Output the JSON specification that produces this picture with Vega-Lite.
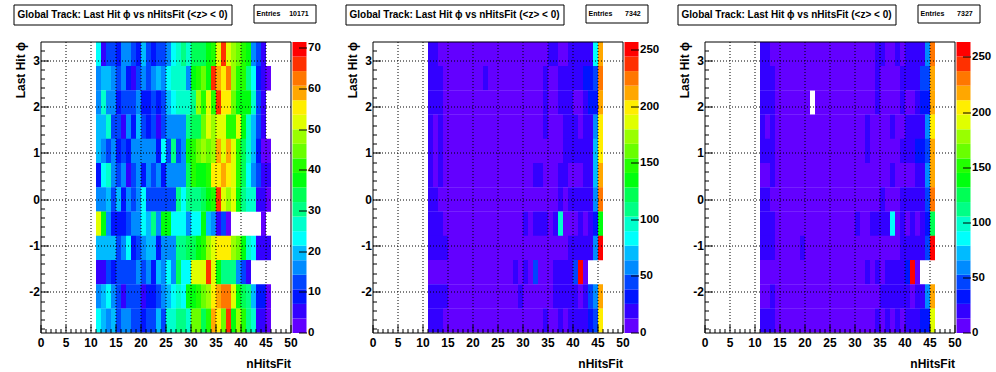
{
"$schema":"https://vega.github.io/schema/vega-lite/v6.json",
"padding":{"left":12.5,"top":3.5,"right":0,"bottom":0},
"background":"white",
"config":{"font":"Liberation Sans","view":{"stroke":null}},
"datasets":{
"p1":[
{"x":11,"y":2.8798,"n":23},{"x":12,"y":2.8798,"n":5},{"x":13,"y":2.8798,"n":13},{"x":14,"y":2.8798,"n":13},{"x":15,"y":2.8798,"n":9},{"x":16,"y":2.8798,"n":16},{"x":17,"y":2.8798,"n":16},{"x":18,"y":2.8798,"n":13},{"x":19,"y":2.8798,"n":9},{"x":20,"y":2.8798,"n":20},{"x":21,"y":2.8798,"n":13},{"x":22,"y":2.8798,"n":9},{"x":23,"y":2.8798,"n":13},{"x":24,"y":2.8798,"n":13},{"x":25,"y":2.8798,"n":16},{"x":26,"y":2.8798,"n":23},{"x":27,"y":2.8798,"n":27},{"x":28,"y":2.8798,"n":30},{"x":29,"y":2.8798,"n":27},{"x":30,"y":2.8798,"n":34},{"x":31,"y":2.8798,"n":34},{"x":32,"y":2.8798,"n":34},{"x":33,"y":2.8798,"n":38},{"x":34,"y":2.8798,"n":41},{"x":35,"y":2.8798,"n":52},{"x":36,"y":2.8798,"n":66},{"x":37,"y":2.8798,"n":52},{"x":38,"y":2.8798,"n":48},{"x":39,"y":2.8798,"n":45},{"x":40,"y":2.8798,"n":41},{"x":41,"y":2.8798,"n":38},{"x":42,"y":2.8798,"n":16},{"x":43,"y":2.8798,"n":13},{"x":44,"y":2.8798,"n":5},
{"x":11,"y":2.3562,"n":16},{"x":12,"y":2.3562,"n":20},{"x":13,"y":2.3562,"n":20},{"x":14,"y":2.3562,"n":16},{"x":15,"y":2.3562,"n":13},{"x":16,"y":2.3562,"n":16},{"x":17,"y":2.3562,"n":9},{"x":18,"y":2.3562,"n":5},{"x":19,"y":2.3562,"n":13},{"x":20,"y":2.3562,"n":16},{"x":21,"y":2.3562,"n":13},{"x":22,"y":2.3562,"n":16},{"x":23,"y":2.3562,"n":20},{"x":24,"y":2.3562,"n":16},{"x":25,"y":2.3562,"n":23},{"x":26,"y":2.3562,"n":27},{"x":27,"y":2.3562,"n":27},{"x":28,"y":2.3562,"n":27},{"x":29,"y":2.3562,"n":16},{"x":30,"y":2.3562,"n":38},{"x":31,"y":2.3562,"n":41},{"x":32,"y":2.3562,"n":45},{"x":33,"y":2.3562,"n":38},{"x":34,"y":2.3562,"n":66},{"x":35,"y":2.3562,"n":59},{"x":36,"y":2.3562,"n":55},{"x":37,"y":2.3562,"n":63},{"x":38,"y":2.3562,"n":48},{"x":39,"y":2.3562,"n":41},{"x":40,"y":2.3562,"n":41},{"x":41,"y":2.3562,"n":30},{"x":42,"y":2.3562,"n":23},{"x":43,"y":2.3562,"n":9},{"x":44,"y":2.3562,"n":5},{"x":45,"y":2.3562,"n":2},
{"x":11,"y":1.8326,"n":16},{"x":12,"y":1.8326,"n":27},{"x":13,"y":1.8326,"n":16},{"x":14,"y":1.8326,"n":16},{"x":15,"y":1.8326,"n":9},{"x":16,"y":1.8326,"n":13},{"x":17,"y":1.8326,"n":13},{"x":18,"y":1.8326,"n":13},{"x":19,"y":1.8326,"n":16},{"x":20,"y":1.8326,"n":9},{"x":21,"y":1.8326,"n":9},{"x":22,"y":1.8326,"n":13},{"x":23,"y":1.8326,"n":9},{"x":24,"y":1.8326,"n":13},{"x":25,"y":1.8326,"n":20},{"x":26,"y":1.8326,"n":23},{"x":27,"y":1.8326,"n":27},{"x":28,"y":1.8326,"n":27},{"x":29,"y":1.8326,"n":27},{"x":30,"y":1.8326,"n":30},{"x":31,"y":1.8326,"n":48},{"x":32,"y":1.8326,"n":41},{"x":33,"y":1.8326,"n":52},{"x":34,"y":1.8326,"n":41},{"x":35,"y":1.8326,"n":66},{"x":36,"y":1.8326,"n":55},{"x":37,"y":1.8326,"n":55},{"x":38,"y":1.8326,"n":45},{"x":39,"y":1.8326,"n":38},{"x":40,"y":1.8326,"n":38},{"x":41,"y":1.8326,"n":38},{"x":42,"y":1.8326,"n":27},{"x":43,"y":1.8326,"n":13},{"x":44,"y":1.8326,"n":5},
{"x":11,"y":1.309,"n":20},{"x":12,"y":1.309,"n":20},{"x":13,"y":1.309,"n":27},{"x":14,"y":1.309,"n":13},{"x":15,"y":1.309,"n":13},{"x":16,"y":1.309,"n":5},{"x":17,"y":1.309,"n":16},{"x":18,"y":1.309,"n":9},{"x":19,"y":1.309,"n":20},{"x":20,"y":1.309,"n":13},{"x":21,"y":1.309,"n":9},{"x":22,"y":1.309,"n":13},{"x":23,"y":1.309,"n":5},{"x":24,"y":1.309,"n":13},{"x":25,"y":1.309,"n":16},{"x":26,"y":1.309,"n":16},{"x":27,"y":1.309,"n":16},{"x":28,"y":1.309,"n":16},{"x":29,"y":1.309,"n":30},{"x":30,"y":1.309,"n":34},{"x":31,"y":1.309,"n":34},{"x":32,"y":1.309,"n":45},{"x":33,"y":1.309,"n":52},{"x":34,"y":1.309,"n":48},{"x":35,"y":1.309,"n":52},{"x":36,"y":1.309,"n":52},{"x":37,"y":1.309,"n":41},{"x":38,"y":1.309,"n":41},{"x":39,"y":1.309,"n":52},{"x":40,"y":1.309,"n":38},{"x":41,"y":1.309,"n":27},{"x":42,"y":1.309,"n":20},{"x":43,"y":1.309,"n":13},{"x":44,"y":1.309,"n":5},
{"x":11,"y":0.7854,"n":20},{"x":12,"y":0.7854,"n":16},{"x":13,"y":0.7854,"n":13},{"x":14,"y":0.7854,"n":16},{"x":15,"y":0.7854,"n":9},{"x":16,"y":0.7854,"n":13},{"x":17,"y":0.7854,"n":9},{"x":18,"y":0.7854,"n":16},{"x":19,"y":0.7854,"n":16},{"x":20,"y":0.7854,"n":16},{"x":21,"y":0.7854,"n":16},{"x":22,"y":0.7854,"n":16},{"x":23,"y":0.7854,"n":9},{"x":24,"y":0.7854,"n":23},{"x":25,"y":0.7854,"n":13},{"x":26,"y":0.7854,"n":30},{"x":27,"y":0.7854,"n":13},{"x":28,"y":0.7854,"n":16},{"x":29,"y":0.7854,"n":38},{"x":30,"y":0.7854,"n":41},{"x":31,"y":0.7854,"n":45},{"x":32,"y":0.7854,"n":48},{"x":33,"y":0.7854,"n":45},{"x":34,"y":0.7854,"n":48},{"x":35,"y":0.7854,"n":59},{"x":36,"y":0.7854,"n":52},{"x":37,"y":0.7854,"n":59},{"x":38,"y":0.7854,"n":52},{"x":39,"y":0.7854,"n":41},{"x":40,"y":0.7854,"n":34},{"x":41,"y":0.7854,"n":27},{"x":42,"y":0.7854,"n":20},{"x":43,"y":0.7854,"n":9},{"x":44,"y":0.7854,"n":2},{"x":45,"y":0.7854,"n":2},
{"x":11,"y":0.2618,"n":9},{"x":12,"y":0.2618,"n":23},{"x":13,"y":0.2618,"n":27},{"x":14,"y":0.2618,"n":16},{"x":15,"y":0.2618,"n":13},{"x":16,"y":0.2618,"n":16},{"x":17,"y":0.2618,"n":5},{"x":18,"y":0.2618,"n":13},{"x":19,"y":0.2618,"n":16},{"x":20,"y":0.2618,"n":9},{"x":21,"y":0.2618,"n":16},{"x":22,"y":0.2618,"n":13},{"x":23,"y":0.2618,"n":16},{"x":24,"y":0.2618,"n":9},{"x":25,"y":0.2618,"n":16},{"x":26,"y":0.2618,"n":16},{"x":27,"y":0.2618,"n":16},{"x":28,"y":0.2618,"n":16},{"x":29,"y":0.2618,"n":34},{"x":30,"y":0.2618,"n":41},{"x":31,"y":0.2618,"n":38},{"x":32,"y":0.2618,"n":38},{"x":33,"y":0.2618,"n":41},{"x":34,"y":0.2618,"n":55},{"x":35,"y":0.2618,"n":55},{"x":36,"y":0.2618,"n":59},{"x":37,"y":0.2618,"n":55},{"x":38,"y":0.2618,"n":52},{"x":39,"y":0.2618,"n":41},{"x":40,"y":0.2618,"n":34},{"x":41,"y":0.2618,"n":23},{"x":42,"y":0.2618,"n":16},{"x":43,"y":0.2618,"n":13},{"x":44,"y":0.2618,"n":5},{"x":45,"y":0.2618,"n":5},
{"x":11,"y":-0.2618,"n":16},{"x":12,"y":-0.2618,"n":16},{"x":13,"y":-0.2618,"n":20},{"x":14,"y":-0.2618,"n":13},{"x":15,"y":-0.2618,"n":20},{"x":16,"y":-0.2618,"n":9},{"x":17,"y":-0.2618,"n":16},{"x":18,"y":-0.2618,"n":13},{"x":19,"y":-0.2618,"n":16},{"x":20,"y":-0.2618,"n":23},{"x":21,"y":-0.2618,"n":13},{"x":22,"y":-0.2618,"n":13},{"x":23,"y":-0.2618,"n":13},{"x":24,"y":-0.2618,"n":13},{"x":25,"y":-0.2618,"n":13},{"x":26,"y":-0.2618,"n":13},{"x":27,"y":-0.2618,"n":30},{"x":28,"y":-0.2618,"n":23},{"x":29,"y":-0.2618,"n":30},{"x":30,"y":-0.2618,"n":30},{"x":31,"y":-0.2618,"n":30},{"x":32,"y":-0.2618,"n":34},{"x":33,"y":-0.2618,"n":38},{"x":34,"y":-0.2618,"n":41},{"x":35,"y":-0.2618,"n":66},{"x":36,"y":-0.2618,"n":52},{"x":37,"y":-0.2618,"n":48},{"x":38,"y":-0.2618,"n":52},{"x":39,"y":-0.2618,"n":38},{"x":40,"y":-0.2618,"n":30},{"x":41,"y":-0.2618,"n":27},{"x":42,"y":-0.2618,"n":27},{"x":43,"y":-0.2618,"n":5},{"x":44,"y":-0.2618,"n":5},{"x":45,"y":-0.2618,"n":2},
{"x":11,"y":-0.7854,"n":52},{"x":12,"y":-0.7854,"n":38},{"x":13,"y":-0.7854,"n":16},{"x":14,"y":-0.7854,"n":9},{"x":15,"y":-0.7854,"n":9},{"x":16,"y":-0.7854,"n":9},{"x":17,"y":-0.7854,"n":13},{"x":18,"y":-0.7854,"n":16},{"x":19,"y":-0.7854,"n":16},{"x":20,"y":-0.7854,"n":23},{"x":21,"y":-0.7854,"n":20},{"x":22,"y":-0.7854,"n":30},{"x":23,"y":-0.7854,"n":16},{"x":24,"y":-0.7854,"n":38},{"x":25,"y":-0.7854,"n":38},{"x":26,"y":-0.7854,"n":23},{"x":27,"y":-0.7854,"n":23},{"x":28,"y":-0.7854,"n":23},{"x":29,"y":-0.7854,"n":16},{"x":30,"y":-0.7854,"n":23},{"x":31,"y":-0.7854,"n":23},{"x":32,"y":-0.7854,"n":38},{"x":33,"y":-0.7854,"n":20},{"x":34,"y":-0.7854,"n":16},{"x":35,"y":-0.7854,"n":5},{"x":36,"y":-0.7854,"n":13},{"x":37,"y":-0.7854,"n":2},{"x":44,"y":-0.7854,"n":2},
{"x":11,"y":-1.309,"n":20},{"x":12,"y":-1.309,"n":20},{"x":13,"y":-1.309,"n":20},{"x":14,"y":-1.309,"n":20},{"x":15,"y":-1.309,"n":13},{"x":16,"y":-1.309,"n":16},{"x":17,"y":-1.309,"n":23},{"x":18,"y":-1.309,"n":9},{"x":19,"y":-1.309,"n":13},{"x":20,"y":-1.309,"n":16},{"x":21,"y":-1.309,"n":20},{"x":22,"y":-1.309,"n":20},{"x":23,"y":-1.309,"n":9},{"x":24,"y":-1.309,"n":16},{"x":25,"y":-1.309,"n":16},{"x":26,"y":-1.309,"n":16},{"x":27,"y":-1.309,"n":30},{"x":28,"y":-1.309,"n":30},{"x":29,"y":-1.309,"n":34},{"x":30,"y":-1.309,"n":34},{"x":31,"y":-1.309,"n":38},{"x":32,"y":-1.309,"n":41},{"x":33,"y":-1.309,"n":48},{"x":34,"y":-1.309,"n":52},{"x":35,"y":-1.309,"n":55},{"x":36,"y":-1.309,"n":55},{"x":37,"y":-1.309,"n":55},{"x":38,"y":-1.309,"n":48},{"x":39,"y":-1.309,"n":45},{"x":40,"y":-1.309,"n":38},{"x":41,"y":-1.309,"n":27},{"x":42,"y":-1.309,"n":23},{"x":43,"y":-1.309,"n":5},{"x":44,"y":-1.309,"n":5},{"x":45,"y":-1.309,"n":5},
{"x":11,"y":-1.8326,"n":5},{"x":12,"y":-1.8326,"n":5},{"x":13,"y":-1.8326,"n":13},{"x":14,"y":-1.8326,"n":9},{"x":15,"y":-1.8326,"n":13},{"x":16,"y":-1.8326,"n":13},{"x":17,"y":-1.8326,"n":13},{"x":18,"y":-1.8326,"n":13},{"x":19,"y":-1.8326,"n":16},{"x":20,"y":-1.8326,"n":13},{"x":21,"y":-1.8326,"n":16},{"x":22,"y":-1.8326,"n":9},{"x":23,"y":-1.8326,"n":20},{"x":24,"y":-1.8326,"n":16},{"x":25,"y":-1.8326,"n":23},{"x":26,"y":-1.8326,"n":16},{"x":27,"y":-1.8326,"n":34},{"x":28,"y":-1.8326,"n":23},{"x":29,"y":-1.8326,"n":23},{"x":30,"y":-1.8326,"n":52},{"x":31,"y":-1.8326,"n":52},{"x":32,"y":-1.8326,"n":52},{"x":33,"y":-1.8326,"n":66},{"x":34,"y":-1.8326,"n":52},{"x":35,"y":-1.8326,"n":38},{"x":36,"y":-1.8326,"n":30},{"x":37,"y":-1.8326,"n":30},{"x":38,"y":-1.8326,"n":30},{"x":39,"y":-1.8326,"n":16},{"x":40,"y":-1.8326,"n":13},{"x":41,"y":-1.8326,"n":5},
{"x":11,"y":-2.3562,"n":16},{"x":12,"y":-2.3562,"n":20},{"x":13,"y":-2.3562,"n":23},{"x":14,"y":-2.3562,"n":16},{"x":15,"y":-2.3562,"n":13},{"x":16,"y":-2.3562,"n":5},{"x":17,"y":-2.3562,"n":13},{"x":18,"y":-2.3562,"n":13},{"x":19,"y":-2.3562,"n":13},{"x":20,"y":-2.3562,"n":5},{"x":21,"y":-2.3562,"n":9},{"x":22,"y":-2.3562,"n":9},{"x":23,"y":-2.3562,"n":13},{"x":24,"y":-2.3562,"n":16},{"x":25,"y":-2.3562,"n":20},{"x":26,"y":-2.3562,"n":23},{"x":27,"y":-2.3562,"n":27},{"x":28,"y":-2.3562,"n":23},{"x":29,"y":-2.3562,"n":38},{"x":30,"y":-2.3562,"n":38},{"x":31,"y":-2.3562,"n":41},{"x":32,"y":-2.3562,"n":45},{"x":33,"y":-2.3562,"n":48},{"x":34,"y":-2.3562,"n":55},{"x":35,"y":-2.3562,"n":59},{"x":36,"y":-2.3562,"n":63},{"x":37,"y":-2.3562,"n":63},{"x":38,"y":-2.3562,"n":52},{"x":39,"y":-2.3562,"n":38},{"x":40,"y":-2.3562,"n":34},{"x":41,"y":-2.3562,"n":30},{"x":42,"y":-2.3562,"n":20},{"x":43,"y":-2.3562,"n":9},{"x":44,"y":-2.3562,"n":9},{"x":45,"y":-2.3562,"n":2},
{"x":11,"y":-2.8798,"n":23},{"x":12,"y":-2.8798,"n":20},{"x":13,"y":-2.8798,"n":16},{"x":14,"y":-2.8798,"n":20},{"x":15,"y":-2.8798,"n":13},{"x":16,"y":-2.8798,"n":16},{"x":17,"y":-2.8798,"n":16},{"x":18,"y":-2.8798,"n":13},{"x":19,"y":-2.8798,"n":13},{"x":20,"y":-2.8798,"n":9},{"x":21,"y":-2.8798,"n":13},{"x":22,"y":-2.8798,"n":13},{"x":23,"y":-2.8798,"n":20},{"x":24,"y":-2.8798,"n":13},{"x":25,"y":-2.8798,"n":27},{"x":26,"y":-2.8798,"n":27},{"x":27,"y":-2.8798,"n":30},{"x":28,"y":-2.8798,"n":30},{"x":29,"y":-2.8798,"n":27},{"x":30,"y":-2.8798,"n":45},{"x":31,"y":-2.8798,"n":45},{"x":32,"y":-2.8798,"n":34},{"x":33,"y":-2.8798,"n":41},{"x":34,"y":-2.8798,"n":59},{"x":35,"y":-2.8798,"n":55},{"x":36,"y":-2.8798,"n":45},{"x":37,"y":-2.8798,"n":66},{"x":38,"y":-2.8798,"n":38},{"x":39,"y":-2.8798,"n":48},{"x":40,"y":-2.8798,"n":41},{"x":41,"y":-2.8798,"n":30},{"x":42,"y":-2.8798,"n":27},{"x":43,"y":-2.8798,"n":5},{"x":44,"y":-2.8798,"n":5},{"x":45,"y":-2.8798,"n":2}
],
"p2":[
{"x":11,"y":2.8798,"n":19},{"x":12,"y":2.8798,"n":19},{"x":13,"y":2.8798,"n":6},{"x":14,"y":2.8798,"n":6},{"x":15,"y":2.8798,"n":6},{"x":16,"y":2.8798,"n":6},{"x":17,"y":2.8798,"n":6},{"x":18,"y":2.8798,"n":6},{"x":19,"y":2.8798,"n":6},{"x":20,"y":2.8798,"n":6},{"x":21,"y":2.8798,"n":6},{"x":22,"y":2.8798,"n":6},{"x":23,"y":2.8798,"n":6},{"x":24,"y":2.8798,"n":6},{"x":25,"y":2.8798,"n":6},{"x":26,"y":2.8798,"n":6},{"x":27,"y":2.8798,"n":6},{"x":28,"y":2.8798,"n":6},{"x":29,"y":2.8798,"n":6},{"x":30,"y":2.8798,"n":6},{"x":31,"y":2.8798,"n":6},{"x":32,"y":2.8798,"n":6},{"x":33,"y":2.8798,"n":6},{"x":34,"y":2.8798,"n":6},{"x":35,"y":2.8798,"n":19},{"x":36,"y":2.8798,"n":19},{"x":37,"y":2.8798,"n":6},{"x":38,"y":2.8798,"n":6},{"x":39,"y":2.8798,"n":19},{"x":40,"y":2.8798,"n":19},{"x":41,"y":2.8798,"n":19},{"x":42,"y":2.8798,"n":19},{"x":43,"y":2.8798,"n":19},{"x":44,"y":2.8798,"n":84},{"x":45,"y":2.8798,"n":212},
{"x":11,"y":2.3562,"n":19},{"x":12,"y":2.3562,"n":19},{"x":13,"y":2.3562,"n":19},{"x":14,"y":2.3562,"n":6},{"x":15,"y":2.3562,"n":6},{"x":16,"y":2.3562,"n":6},{"x":17,"y":2.3562,"n":6},{"x":18,"y":2.3562,"n":6},{"x":19,"y":2.3562,"n":6},{"x":20,"y":2.3562,"n":6},{"x":21,"y":2.3562,"n":6},{"x":22,"y":2.3562,"n":19},{"x":23,"y":2.3562,"n":6},{"x":24,"y":2.3562,"n":6},{"x":25,"y":2.3562,"n":6},{"x":26,"y":2.3562,"n":6},{"x":27,"y":2.3562,"n":6},{"x":28,"y":2.3562,"n":6},{"x":29,"y":2.3562,"n":6},{"x":30,"y":2.3562,"n":6},{"x":31,"y":2.3562,"n":6},{"x":32,"y":2.3562,"n":6},{"x":33,"y":2.3562,"n":6},{"x":34,"y":2.3562,"n":19},{"x":35,"y":2.3562,"n":6},{"x":36,"y":2.3562,"n":6},{"x":37,"y":2.3562,"n":19},{"x":38,"y":2.3562,"n":19},{"x":39,"y":2.3562,"n":19},{"x":40,"y":2.3562,"n":19},{"x":41,"y":2.3562,"n":19},{"x":42,"y":2.3562,"n":32},{"x":43,"y":2.3562,"n":32},{"x":44,"y":2.3562,"n":45},{"x":45,"y":2.3562,"n":225},
{"x":11,"y":1.8326,"n":19},{"x":12,"y":1.8326,"n":19},{"x":13,"y":1.8326,"n":19},{"x":14,"y":1.8326,"n":6},{"x":15,"y":1.8326,"n":6},{"x":16,"y":1.8326,"n":6},{"x":17,"y":1.8326,"n":6},{"x":18,"y":1.8326,"n":6},{"x":19,"y":1.8326,"n":6},{"x":20,"y":1.8326,"n":6},{"x":21,"y":1.8326,"n":6},{"x":22,"y":1.8326,"n":6},{"x":23,"y":1.8326,"n":6},{"x":24,"y":1.8326,"n":6},{"x":25,"y":1.8326,"n":6},{"x":26,"y":1.8326,"n":6},{"x":27,"y":1.8326,"n":6},{"x":28,"y":1.8326,"n":6},{"x":29,"y":1.8326,"n":6},{"x":30,"y":1.8326,"n":6},{"x":31,"y":1.8326,"n":6},{"x":32,"y":1.8326,"n":6},{"x":33,"y":1.8326,"n":6},{"x":34,"y":1.8326,"n":19},{"x":35,"y":1.8326,"n":6},{"x":36,"y":1.8326,"n":6},{"x":37,"y":1.8326,"n":19},{"x":38,"y":1.8326,"n":19},{"x":39,"y":1.8326,"n":19},{"x":40,"y":1.8326,"n":6},{"x":41,"y":1.8326,"n":6},{"x":42,"y":1.8326,"n":19},{"x":43,"y":1.8326,"n":32},{"x":44,"y":1.8326,"n":32},{"x":45,"y":1.8326,"n":212},
{"x":11,"y":1.309,"n":19},{"x":12,"y":1.309,"n":6},{"x":13,"y":1.309,"n":19},{"x":14,"y":1.309,"n":6},{"x":15,"y":1.309,"n":6},{"x":16,"y":1.309,"n":6},{"x":17,"y":1.309,"n":6},{"x":18,"y":1.309,"n":6},{"x":19,"y":1.309,"n":6},{"x":20,"y":1.309,"n":6},{"x":21,"y":1.309,"n":6},{"x":22,"y":1.309,"n":6},{"x":23,"y":1.309,"n":6},{"x":24,"y":1.309,"n":6},{"x":25,"y":1.309,"n":6},{"x":26,"y":1.309,"n":6},{"x":27,"y":1.309,"n":6},{"x":28,"y":1.309,"n":6},{"x":29,"y":1.309,"n":6},{"x":30,"y":1.309,"n":6},{"x":31,"y":1.309,"n":6},{"x":32,"y":1.309,"n":6},{"x":33,"y":1.309,"n":6},{"x":34,"y":1.309,"n":19},{"x":35,"y":1.309,"n":6},{"x":36,"y":1.309,"n":6},{"x":37,"y":1.309,"n":6},{"x":38,"y":1.309,"n":19},{"x":39,"y":1.309,"n":19},{"x":40,"y":1.309,"n":19},{"x":41,"y":1.309,"n":6},{"x":42,"y":1.309,"n":19},{"x":43,"y":1.309,"n":19},{"x":44,"y":1.309,"n":58},{"x":45,"y":1.309,"n":199},
{"x":11,"y":0.7854,"n":19},{"x":12,"y":0.7854,"n":6},{"x":13,"y":0.7854,"n":19},{"x":14,"y":0.7854,"n":6},{"x":15,"y":0.7854,"n":6},{"x":16,"y":0.7854,"n":6},{"x":17,"y":0.7854,"n":6},{"x":18,"y":0.7854,"n":6},{"x":19,"y":0.7854,"n":6},{"x":20,"y":0.7854,"n":6},{"x":21,"y":0.7854,"n":6},{"x":22,"y":0.7854,"n":6},{"x":23,"y":0.7854,"n":6},{"x":24,"y":0.7854,"n":6},{"x":25,"y":0.7854,"n":6},{"x":26,"y":0.7854,"n":6},{"x":27,"y":0.7854,"n":6},{"x":28,"y":0.7854,"n":6},{"x":29,"y":0.7854,"n":6},{"x":30,"y":0.7854,"n":6},{"x":31,"y":0.7854,"n":6},{"x":32,"y":0.7854,"n":6},{"x":33,"y":0.7854,"n":6},{"x":34,"y":0.7854,"n":6},{"x":35,"y":0.7854,"n":6},{"x":36,"y":0.7854,"n":6},{"x":37,"y":0.7854,"n":6},{"x":38,"y":0.7854,"n":19},{"x":39,"y":0.7854,"n":19},{"x":40,"y":0.7854,"n":19},{"x":41,"y":0.7854,"n":19},{"x":42,"y":0.7854,"n":19},{"x":43,"y":0.7854,"n":19},{"x":44,"y":0.7854,"n":71},{"x":45,"y":0.7854,"n":199},
{"x":11,"y":0.2618,"n":19},{"x":12,"y":0.2618,"n":6},{"x":13,"y":0.2618,"n":19},{"x":14,"y":0.2618,"n":6},{"x":15,"y":0.2618,"n":6},{"x":16,"y":0.2618,"n":6},{"x":17,"y":0.2618,"n":6},{"x":18,"y":0.2618,"n":6},{"x":19,"y":0.2618,"n":6},{"x":20,"y":0.2618,"n":6},{"x":21,"y":0.2618,"n":6},{"x":22,"y":0.2618,"n":6},{"x":23,"y":0.2618,"n":6},{"x":24,"y":0.2618,"n":6},{"x":25,"y":0.2618,"n":6},{"x":26,"y":0.2618,"n":6},{"x":27,"y":0.2618,"n":6},{"x":28,"y":0.2618,"n":6},{"x":29,"y":0.2618,"n":6},{"x":30,"y":0.2618,"n":6},{"x":31,"y":0.2618,"n":6},{"x":32,"y":0.2618,"n":19},{"x":33,"y":0.2618,"n":19},{"x":34,"y":0.2618,"n":6},{"x":35,"y":0.2618,"n":6},{"x":36,"y":0.2618,"n":6},{"x":37,"y":0.2618,"n":19},{"x":38,"y":0.2618,"n":19},{"x":39,"y":0.2618,"n":6},{"x":40,"y":0.2618,"n":6},{"x":41,"y":0.2618,"n":6},{"x":42,"y":0.2618,"n":19},{"x":43,"y":0.2618,"n":19},{"x":44,"y":0.2618,"n":71},{"x":45,"y":0.2618,"n":212},
{"x":11,"y":-0.2618,"n":19},{"x":12,"y":-0.2618,"n":19},{"x":13,"y":-0.2618,"n":6},{"x":14,"y":-0.2618,"n":6},{"x":15,"y":-0.2618,"n":6},{"x":16,"y":-0.2618,"n":6},{"x":17,"y":-0.2618,"n":6},{"x":18,"y":-0.2618,"n":6},{"x":19,"y":-0.2618,"n":6},{"x":20,"y":-0.2618,"n":6},{"x":21,"y":-0.2618,"n":6},{"x":22,"y":-0.2618,"n":6},{"x":23,"y":-0.2618,"n":6},{"x":24,"y":-0.2618,"n":6},{"x":25,"y":-0.2618,"n":6},{"x":26,"y":-0.2618,"n":6},{"x":27,"y":-0.2618,"n":6},{"x":28,"y":-0.2618,"n":6},{"x":29,"y":-0.2618,"n":6},{"x":30,"y":-0.2618,"n":6},{"x":31,"y":-0.2618,"n":6},{"x":32,"y":-0.2618,"n":6},{"x":33,"y":-0.2618,"n":6},{"x":34,"y":-0.2618,"n":6},{"x":35,"y":-0.2618,"n":6},{"x":36,"y":-0.2618,"n":6},{"x":37,"y":-0.2618,"n":19},{"x":38,"y":-0.2618,"n":6},{"x":39,"y":-0.2618,"n":19},{"x":40,"y":-0.2618,"n":19},{"x":41,"y":-0.2618,"n":19},{"x":42,"y":-0.2618,"n":19},{"x":43,"y":-0.2618,"n":19},{"x":44,"y":-0.2618,"n":58},{"x":45,"y":-0.2618,"n":225},
{"x":11,"y":-0.7854,"n":19},{"x":12,"y":-0.7854,"n":19},{"x":13,"y":-0.7854,"n":19},{"x":14,"y":-0.7854,"n":6},{"x":15,"y":-0.7854,"n":6},{"x":16,"y":-0.7854,"n":6},{"x":17,"y":-0.7854,"n":6},{"x":18,"y":-0.7854,"n":6},{"x":19,"y":-0.7854,"n":6},{"x":20,"y":-0.7854,"n":6},{"x":21,"y":-0.7854,"n":6},{"x":22,"y":-0.7854,"n":6},{"x":23,"y":-0.7854,"n":6},{"x":24,"y":-0.7854,"n":6},{"x":25,"y":-0.7854,"n":6},{"x":26,"y":-0.7854,"n":6},{"x":27,"y":-0.7854,"n":6},{"x":28,"y":-0.7854,"n":6},{"x":29,"y":-0.7854,"n":6},{"x":30,"y":-0.7854,"n":19},{"x":31,"y":-0.7854,"n":6},{"x":32,"y":-0.7854,"n":19},{"x":33,"y":-0.7854,"n":19},{"x":34,"y":-0.7854,"n":19},{"x":35,"y":-0.7854,"n":6},{"x":36,"y":-0.7854,"n":19},{"x":37,"y":-0.7854,"n":96},{"x":38,"y":-0.7854,"n":6},{"x":39,"y":-0.7854,"n":6},{"x":40,"y":-0.7854,"n":6},{"x":41,"y":-0.7854,"n":19},{"x":42,"y":-0.7854,"n":6},{"x":43,"y":-0.7854,"n":19},{"x":44,"y":-0.7854,"n":32},{"x":45,"y":-0.7854,"n":135},
{"x":11,"y":-1.309,"n":19},{"x":12,"y":-1.309,"n":19},{"x":13,"y":-1.309,"n":19},{"x":14,"y":-1.309,"n":19},{"x":15,"y":-1.309,"n":6},{"x":16,"y":-1.309,"n":6},{"x":17,"y":-1.309,"n":6},{"x":18,"y":-1.309,"n":6},{"x":19,"y":-1.309,"n":6},{"x":20,"y":-1.309,"n":6},{"x":21,"y":-1.309,"n":6},{"x":22,"y":-1.309,"n":6},{"x":23,"y":-1.309,"n":6},{"x":24,"y":-1.309,"n":6},{"x":25,"y":-1.309,"n":6},{"x":26,"y":-1.309,"n":6},{"x":27,"y":-1.309,"n":6},{"x":28,"y":-1.309,"n":6},{"x":29,"y":-1.309,"n":6},{"x":30,"y":-1.309,"n":6},{"x":31,"y":-1.309,"n":6},{"x":32,"y":-1.309,"n":6},{"x":33,"y":-1.309,"n":6},{"x":34,"y":-1.309,"n":6},{"x":35,"y":-1.309,"n":6},{"x":36,"y":-1.309,"n":6},{"x":37,"y":-1.309,"n":6},{"x":38,"y":-1.309,"n":6},{"x":39,"y":-1.309,"n":19},{"x":40,"y":-1.309,"n":19},{"x":41,"y":-1.309,"n":19},{"x":42,"y":-1.309,"n":19},{"x":43,"y":-1.309,"n":19},{"x":44,"y":-1.309,"n":58},{"x":45,"y":-1.309,"n":250},
{"x":11,"y":-1.8326,"n":6},{"x":12,"y":-1.8326,"n":6},{"x":13,"y":-1.8326,"n":6},{"x":14,"y":-1.8326,"n":6},{"x":15,"y":-1.8326,"n":6},{"x":16,"y":-1.8326,"n":6},{"x":17,"y":-1.8326,"n":6},{"x":18,"y":-1.8326,"n":6},{"x":19,"y":-1.8326,"n":6},{"x":20,"y":-1.8326,"n":6},{"x":21,"y":-1.8326,"n":6},{"x":22,"y":-1.8326,"n":6},{"x":23,"y":-1.8326,"n":6},{"x":24,"y":-1.8326,"n":6},{"x":25,"y":-1.8326,"n":6},{"x":26,"y":-1.8326,"n":6},{"x":27,"y":-1.8326,"n":6},{"x":28,"y":-1.8326,"n":19},{"x":29,"y":-1.8326,"n":6},{"x":30,"y":-1.8326,"n":19},{"x":31,"y":-1.8326,"n":6},{"x":32,"y":-1.8326,"n":45},{"x":33,"y":-1.8326,"n":6},{"x":34,"y":-1.8326,"n":6},{"x":35,"y":-1.8326,"n":6},{"x":36,"y":-1.8326,"n":19},{"x":37,"y":-1.8326,"n":19},{"x":38,"y":-1.8326,"n":19},{"x":39,"y":-1.8326,"n":19},{"x":40,"y":-1.8326,"n":45},{"x":41,"y":-1.8326,"n":250},{"x":42,"y":-1.8326,"n":6},
{"x":11,"y":-2.3562,"n":19},{"x":12,"y":-2.3562,"n":19},{"x":13,"y":-2.3562,"n":19},{"x":14,"y":-2.3562,"n":19},{"x":15,"y":-2.3562,"n":6},{"x":16,"y":-2.3562,"n":6},{"x":17,"y":-2.3562,"n":6},{"x":18,"y":-2.3562,"n":6},{"x":19,"y":-2.3562,"n":6},{"x":20,"y":-2.3562,"n":6},{"x":21,"y":-2.3562,"n":6},{"x":22,"y":-2.3562,"n":6},{"x":23,"y":-2.3562,"n":6},{"x":24,"y":-2.3562,"n":6},{"x":25,"y":-2.3562,"n":6},{"x":26,"y":-2.3562,"n":6},{"x":27,"y":-2.3562,"n":6},{"x":28,"y":-2.3562,"n":6},{"x":29,"y":-2.3562,"n":19},{"x":30,"y":-2.3562,"n":6},{"x":31,"y":-2.3562,"n":6},{"x":32,"y":-2.3562,"n":6},{"x":33,"y":-2.3562,"n":6},{"x":34,"y":-2.3562,"n":6},{"x":35,"y":-2.3562,"n":6},{"x":36,"y":-2.3562,"n":19},{"x":37,"y":-2.3562,"n":19},{"x":38,"y":-2.3562,"n":19},{"x":39,"y":-2.3562,"n":19},{"x":40,"y":-2.3562,"n":19},{"x":41,"y":-2.3562,"n":6},{"x":42,"y":-2.3562,"n":19},{"x":43,"y":-2.3562,"n":45},{"x":44,"y":-2.3562,"n":58},{"x":45,"y":-2.3562,"n":212},
{"x":11,"y":-2.8798,"n":19},{"x":12,"y":-2.8798,"n":19},{"x":13,"y":-2.8798,"n":19},{"x":14,"y":-2.8798,"n":6},{"x":15,"y":-2.8798,"n":6},{"x":16,"y":-2.8798,"n":6},{"x":17,"y":-2.8798,"n":6},{"x":18,"y":-2.8798,"n":6},{"x":19,"y":-2.8798,"n":6},{"x":20,"y":-2.8798,"n":6},{"x":21,"y":-2.8798,"n":6},{"x":22,"y":-2.8798,"n":6},{"x":23,"y":-2.8798,"n":6},{"x":24,"y":-2.8798,"n":6},{"x":25,"y":-2.8798,"n":6},{"x":26,"y":-2.8798,"n":6},{"x":27,"y":-2.8798,"n":6},{"x":28,"y":-2.8798,"n":6},{"x":29,"y":-2.8798,"n":6},{"x":30,"y":-2.8798,"n":6},{"x":31,"y":-2.8798,"n":6},{"x":32,"y":-2.8798,"n":6},{"x":33,"y":-2.8798,"n":6},{"x":34,"y":-2.8798,"n":19},{"x":35,"y":-2.8798,"n":6},{"x":36,"y":-2.8798,"n":6},{"x":37,"y":-2.8798,"n":19},{"x":38,"y":-2.8798,"n":6},{"x":39,"y":-2.8798,"n":19},{"x":40,"y":-2.8798,"n":19},{"x":41,"y":-2.8798,"n":19},{"x":42,"y":-2.8798,"n":19},{"x":43,"y":-2.8798,"n":32},{"x":44,"y":-2.8798,"n":45},{"x":45,"y":-2.8798,"n":199}
],
"p3":[
{"x":11,"y":2.8798,"n":20},{"x":12,"y":2.8798,"n":20},{"x":13,"y":2.8798,"n":7},{"x":14,"y":2.8798,"n":7},{"x":15,"y":2.8798,"n":7},{"x":16,"y":2.8798,"n":7},{"x":17,"y":2.8798,"n":7},{"x":18,"y":2.8798,"n":7},{"x":19,"y":2.8798,"n":7},{"x":20,"y":2.8798,"n":7},{"x":21,"y":2.8798,"n":7},{"x":22,"y":2.8798,"n":7},{"x":23,"y":2.8798,"n":7},{"x":24,"y":2.8798,"n":7},{"x":25,"y":2.8798,"n":7},{"x":26,"y":2.8798,"n":7},{"x":27,"y":2.8798,"n":7},{"x":28,"y":2.8798,"n":7},{"x":29,"y":2.8798,"n":7},{"x":30,"y":2.8798,"n":7},{"x":31,"y":2.8798,"n":7},{"x":32,"y":2.8798,"n":7},{"x":33,"y":2.8798,"n":7},{"x":34,"y":2.8798,"n":20},{"x":35,"y":2.8798,"n":20},{"x":36,"y":2.8798,"n":7},{"x":37,"y":2.8798,"n":7},{"x":38,"y":2.8798,"n":20},{"x":39,"y":2.8798,"n":7},{"x":40,"y":2.8798,"n":20},{"x":41,"y":2.8798,"n":20},{"x":42,"y":2.8798,"n":20},{"x":43,"y":2.8798,"n":20},{"x":44,"y":2.8798,"n":59},{"x":45,"y":2.8798,"n":231},
{"x":11,"y":2.3562,"n":20},{"x":12,"y":2.3562,"n":20},{"x":13,"y":2.3562,"n":20},{"x":14,"y":2.3562,"n":7},{"x":15,"y":2.3562,"n":7},{"x":16,"y":2.3562,"n":7},{"x":17,"y":2.3562,"n":7},{"x":18,"y":2.3562,"n":7},{"x":19,"y":2.3562,"n":7},{"x":20,"y":2.3562,"n":7},{"x":21,"y":2.3562,"n":7},{"x":22,"y":2.3562,"n":7},{"x":23,"y":2.3562,"n":7},{"x":24,"y":2.3562,"n":7},{"x":25,"y":2.3562,"n":7},{"x":26,"y":2.3562,"n":7},{"x":27,"y":2.3562,"n":7},{"x":28,"y":2.3562,"n":7},{"x":29,"y":2.3562,"n":7},{"x":30,"y":2.3562,"n":7},{"x":31,"y":2.3562,"n":7},{"x":32,"y":2.3562,"n":7},{"x":33,"y":2.3562,"n":7},{"x":34,"y":2.3562,"n":20},{"x":35,"y":2.3562,"n":7},{"x":36,"y":2.3562,"n":7},{"x":37,"y":2.3562,"n":7},{"x":38,"y":2.3562,"n":7},{"x":39,"y":2.3562,"n":20},{"x":40,"y":2.3562,"n":20},{"x":41,"y":2.3562,"n":20},{"x":42,"y":2.3562,"n":20},{"x":43,"y":2.3562,"n":46},{"x":44,"y":2.3562,"n":46},{"x":45,"y":2.3562,"n":218},
{"x":11,"y":1.8326,"n":20},{"x":12,"y":1.8326,"n":20},{"x":13,"y":1.8326,"n":20},{"x":14,"y":1.8326,"n":7},{"x":15,"y":1.8326,"n":7},{"x":16,"y":1.8326,"n":7},{"x":17,"y":1.8326,"n":7},{"x":18,"y":1.8326,"n":7},{"x":19,"y":1.8326,"n":7},{"x":20,"y":1.8326,"n":7},{"x":22,"y":1.8326,"n":7},{"x":23,"y":1.8326,"n":7},{"x":24,"y":1.8326,"n":7},{"x":25,"y":1.8326,"n":7},{"x":26,"y":1.8326,"n":7},{"x":27,"y":1.8326,"n":7},{"x":28,"y":1.8326,"n":7},{"x":29,"y":1.8326,"n":7},{"x":30,"y":1.8326,"n":7},{"x":31,"y":1.8326,"n":7},{"x":32,"y":1.8326,"n":7},{"x":33,"y":1.8326,"n":7},{"x":34,"y":1.8326,"n":20},{"x":35,"y":1.8326,"n":7},{"x":36,"y":1.8326,"n":7},{"x":37,"y":1.8326,"n":7},{"x":38,"y":1.8326,"n":7},{"x":39,"y":1.8326,"n":20},{"x":40,"y":1.8326,"n":7},{"x":41,"y":1.8326,"n":7},{"x":42,"y":1.8326,"n":20},{"x":43,"y":1.8326,"n":33},{"x":44,"y":1.8326,"n":33},{"x":45,"y":1.8326,"n":218},
{"x":11,"y":1.309,"n":20},{"x":12,"y":1.309,"n":7},{"x":13,"y":1.309,"n":20},{"x":14,"y":1.309,"n":7},{"x":15,"y":1.309,"n":7},{"x":16,"y":1.309,"n":7},{"x":17,"y":1.309,"n":7},{"x":18,"y":1.309,"n":7},{"x":19,"y":1.309,"n":7},{"x":20,"y":1.309,"n":7},{"x":21,"y":1.309,"n":7},{"x":22,"y":1.309,"n":7},{"x":23,"y":1.309,"n":7},{"x":24,"y":1.309,"n":7},{"x":25,"y":1.309,"n":7},{"x":26,"y":1.309,"n":7},{"x":27,"y":1.309,"n":7},{"x":28,"y":1.309,"n":7},{"x":29,"y":1.309,"n":7},{"x":30,"y":1.309,"n":7},{"x":31,"y":1.309,"n":7},{"x":32,"y":1.309,"n":20},{"x":33,"y":1.309,"n":7},{"x":34,"y":1.309,"n":7},{"x":35,"y":1.309,"n":7},{"x":36,"y":1.309,"n":7},{"x":37,"y":1.309,"n":20},{"x":38,"y":1.309,"n":7},{"x":39,"y":1.309,"n":7},{"x":40,"y":1.309,"n":20},{"x":41,"y":1.309,"n":20},{"x":42,"y":1.309,"n":20},{"x":43,"y":1.309,"n":20},{"x":44,"y":1.309,"n":59},{"x":45,"y":1.309,"n":205},
{"x":11,"y":0.7854,"n":20},{"x":12,"y":0.7854,"n":20},{"x":13,"y":0.7854,"n":20},{"x":14,"y":0.7854,"n":7},{"x":15,"y":0.7854,"n":7},{"x":16,"y":0.7854,"n":7},{"x":17,"y":0.7854,"n":7},{"x":18,"y":0.7854,"n":7},{"x":19,"y":0.7854,"n":7},{"x":20,"y":0.7854,"n":7},{"x":21,"y":0.7854,"n":7},{"x":22,"y":0.7854,"n":7},{"x":23,"y":0.7854,"n":7},{"x":24,"y":0.7854,"n":7},{"x":25,"y":0.7854,"n":7},{"x":26,"y":0.7854,"n":7},{"x":27,"y":0.7854,"n":7},{"x":28,"y":0.7854,"n":7},{"x":29,"y":0.7854,"n":7},{"x":30,"y":0.7854,"n":7},{"x":31,"y":0.7854,"n":7},{"x":32,"y":0.7854,"n":20},{"x":33,"y":0.7854,"n":7},{"x":34,"y":0.7854,"n":7},{"x":35,"y":0.7854,"n":7},{"x":36,"y":0.7854,"n":7},{"x":37,"y":0.7854,"n":7},{"x":38,"y":0.7854,"n":7},{"x":39,"y":0.7854,"n":20},{"x":40,"y":0.7854,"n":20},{"x":41,"y":0.7854,"n":20},{"x":42,"y":0.7854,"n":33},{"x":43,"y":0.7854,"n":33},{"x":44,"y":0.7854,"n":46},{"x":45,"y":0.7854,"n":218},
{"x":11,"y":0.2618,"n":7},{"x":12,"y":0.2618,"n":7},{"x":13,"y":0.2618,"n":20},{"x":14,"y":0.2618,"n":7},{"x":15,"y":0.2618,"n":7},{"x":16,"y":0.2618,"n":7},{"x":17,"y":0.2618,"n":7},{"x":18,"y":0.2618,"n":7},{"x":19,"y":0.2618,"n":7},{"x":20,"y":0.2618,"n":7},{"x":21,"y":0.2618,"n":7},{"x":22,"y":0.2618,"n":7},{"x":23,"y":0.2618,"n":7},{"x":24,"y":0.2618,"n":7},{"x":25,"y":0.2618,"n":7},{"x":26,"y":0.2618,"n":7},{"x":27,"y":0.2618,"n":7},{"x":28,"y":0.2618,"n":7},{"x":29,"y":0.2618,"n":7},{"x":30,"y":0.2618,"n":7},{"x":31,"y":0.2618,"n":7},{"x":32,"y":0.2618,"n":7},{"x":33,"y":0.2618,"n":7},{"x":34,"y":0.2618,"n":7},{"x":35,"y":0.2618,"n":7},{"x":36,"y":0.2618,"n":7},{"x":37,"y":0.2618,"n":20},{"x":38,"y":0.2618,"n":7},{"x":39,"y":0.2618,"n":7},{"x":40,"y":0.2618,"n":7},{"x":41,"y":0.2618,"n":7},{"x":42,"y":0.2618,"n":20},{"x":43,"y":0.2618,"n":20},{"x":44,"y":0.2618,"n":59},{"x":45,"y":0.2618,"n":218},
{"x":11,"y":-0.2618,"n":20},{"x":12,"y":-0.2618,"n":20},{"x":13,"y":-0.2618,"n":7},{"x":14,"y":-0.2618,"n":7},{"x":15,"y":-0.2618,"n":7},{"x":16,"y":-0.2618,"n":7},{"x":17,"y":-0.2618,"n":7},{"x":18,"y":-0.2618,"n":7},{"x":19,"y":-0.2618,"n":7},{"x":20,"y":-0.2618,"n":7},{"x":21,"y":-0.2618,"n":7},{"x":22,"y":-0.2618,"n":7},{"x":23,"y":-0.2618,"n":7},{"x":24,"y":-0.2618,"n":7},{"x":25,"y":-0.2618,"n":7},{"x":26,"y":-0.2618,"n":7},{"x":27,"y":-0.2618,"n":7},{"x":28,"y":-0.2618,"n":7},{"x":29,"y":-0.2618,"n":7},{"x":30,"y":-0.2618,"n":7},{"x":31,"y":-0.2618,"n":7},{"x":32,"y":-0.2618,"n":7},{"x":33,"y":-0.2618,"n":7},{"x":34,"y":-0.2618,"n":7},{"x":35,"y":-0.2618,"n":20},{"x":36,"y":-0.2618,"n":7},{"x":37,"y":-0.2618,"n":7},{"x":38,"y":-0.2618,"n":7},{"x":39,"y":-0.2618,"n":20},{"x":40,"y":-0.2618,"n":20},{"x":41,"y":-0.2618,"n":20},{"x":42,"y":-0.2618,"n":20},{"x":43,"y":-0.2618,"n":20},{"x":44,"y":-0.2618,"n":46},{"x":45,"y":-0.2618,"n":231},
{"x":11,"y":-0.7854,"n":20},{"x":12,"y":-0.7854,"n":20},{"x":13,"y":-0.7854,"n":20},{"x":14,"y":-0.7854,"n":7},{"x":15,"y":-0.7854,"n":7},{"x":16,"y":-0.7854,"n":7},{"x":17,"y":-0.7854,"n":7},{"x":18,"y":-0.7854,"n":7},{"x":19,"y":-0.7854,"n":7},{"x":20,"y":-0.7854,"n":7},{"x":21,"y":-0.7854,"n":7},{"x":22,"y":-0.7854,"n":7},{"x":23,"y":-0.7854,"n":7},{"x":24,"y":-0.7854,"n":7},{"x":25,"y":-0.7854,"n":7},{"x":26,"y":-0.7854,"n":7},{"x":27,"y":-0.7854,"n":7},{"x":28,"y":-0.7854,"n":7},{"x":29,"y":-0.7854,"n":7},{"x":30,"y":-0.7854,"n":20},{"x":31,"y":-0.7854,"n":7},{"x":32,"y":-0.7854,"n":7},{"x":33,"y":-0.7854,"n":20},{"x":34,"y":-0.7854,"n":20},{"x":35,"y":-0.7854,"n":20},{"x":36,"y":-0.7854,"n":20},{"x":37,"y":-0.7854,"n":86},{"x":38,"y":-0.7854,"n":7},{"x":39,"y":-0.7854,"n":20},{"x":40,"y":-0.7854,"n":7},{"x":41,"y":-0.7854,"n":20},{"x":42,"y":-0.7854,"n":7},{"x":43,"y":-0.7854,"n":20},{"x":44,"y":-0.7854,"n":33},{"x":45,"y":-0.7854,"n":125},
{"x":11,"y":-1.309,"n":20},{"x":12,"y":-1.309,"n":20},{"x":13,"y":-1.309,"n":20},{"x":14,"y":-1.309,"n":7},{"x":15,"y":-1.309,"n":7},{"x":16,"y":-1.309,"n":7},{"x":17,"y":-1.309,"n":7},{"x":18,"y":-1.309,"n":7},{"x":19,"y":-1.309,"n":20},{"x":20,"y":-1.309,"n":7},{"x":21,"y":-1.309,"n":7},{"x":22,"y":-1.309,"n":7},{"x":23,"y":-1.309,"n":7},{"x":24,"y":-1.309,"n":7},{"x":25,"y":-1.309,"n":7},{"x":26,"y":-1.309,"n":7},{"x":27,"y":-1.309,"n":7},{"x":28,"y":-1.309,"n":7},{"x":29,"y":-1.309,"n":7},{"x":30,"y":-1.309,"n":7},{"x":31,"y":-1.309,"n":7},{"x":32,"y":-1.309,"n":7},{"x":33,"y":-1.309,"n":7},{"x":34,"y":-1.309,"n":7},{"x":35,"y":-1.309,"n":7},{"x":36,"y":-1.309,"n":7},{"x":37,"y":-1.309,"n":7},{"x":38,"y":-1.309,"n":7},{"x":39,"y":-1.309,"n":20},{"x":40,"y":-1.309,"n":20},{"x":41,"y":-1.309,"n":20},{"x":42,"y":-1.309,"n":20},{"x":43,"y":-1.309,"n":20},{"x":44,"y":-1.309,"n":46},{"x":45,"y":-1.309,"n":257},
{"x":11,"y":-1.8326,"n":7},{"x":12,"y":-1.8326,"n":7},{"x":13,"y":-1.8326,"n":7},{"x":14,"y":-1.8326,"n":7},{"x":15,"y":-1.8326,"n":7},{"x":16,"y":-1.8326,"n":7},{"x":17,"y":-1.8326,"n":7},{"x":18,"y":-1.8326,"n":7},{"x":19,"y":-1.8326,"n":7},{"x":20,"y":-1.8326,"n":7},{"x":21,"y":-1.8326,"n":7},{"x":22,"y":-1.8326,"n":7},{"x":23,"y":-1.8326,"n":7},{"x":24,"y":-1.8326,"n":7},{"x":25,"y":-1.8326,"n":7},{"x":26,"y":-1.8326,"n":7},{"x":27,"y":-1.8326,"n":7},{"x":28,"y":-1.8326,"n":7},{"x":29,"y":-1.8326,"n":7},{"x":30,"y":-1.8326,"n":7},{"x":31,"y":-1.8326,"n":7},{"x":32,"y":-1.8326,"n":20},{"x":33,"y":-1.8326,"n":7},{"x":34,"y":-1.8326,"n":20},{"x":35,"y":-1.8326,"n":7},{"x":36,"y":-1.8326,"n":20},{"x":37,"y":-1.8326,"n":20},{"x":38,"y":-1.8326,"n":20},{"x":39,"y":-1.8326,"n":20},{"x":40,"y":-1.8326,"n":33},{"x":41,"y":-1.8326,"n":257},{"x":42,"y":-1.8326,"n":7},
{"x":11,"y":-2.3562,"n":7},{"x":12,"y":-2.3562,"n":7},{"x":13,"y":-2.3562,"n":20},{"x":14,"y":-2.3562,"n":7},{"x":15,"y":-2.3562,"n":7},{"x":16,"y":-2.3562,"n":7},{"x":17,"y":-2.3562,"n":7},{"x":18,"y":-2.3562,"n":7},{"x":19,"y":-2.3562,"n":7},{"x":20,"y":-2.3562,"n":7},{"x":21,"y":-2.3562,"n":7},{"x":22,"y":-2.3562,"n":7},{"x":23,"y":-2.3562,"n":7},{"x":24,"y":-2.3562,"n":7},{"x":25,"y":-2.3562,"n":7},{"x":26,"y":-2.3562,"n":7},{"x":27,"y":-2.3562,"n":7},{"x":28,"y":-2.3562,"n":7},{"x":29,"y":-2.3562,"n":7},{"x":30,"y":-2.3562,"n":7},{"x":31,"y":-2.3562,"n":7},{"x":32,"y":-2.3562,"n":7},{"x":33,"y":-2.3562,"n":7},{"x":34,"y":-2.3562,"n":7},{"x":35,"y":-2.3562,"n":20},{"x":36,"y":-2.3562,"n":20},{"x":37,"y":-2.3562,"n":20},{"x":38,"y":-2.3562,"n":20},{"x":39,"y":-2.3562,"n":20},{"x":40,"y":-2.3562,"n":20},{"x":41,"y":-2.3562,"n":7},{"x":42,"y":-2.3562,"n":20},{"x":43,"y":-2.3562,"n":20},{"x":44,"y":-2.3562,"n":59},{"x":45,"y":-2.3562,"n":218},
{"x":11,"y":-2.8798,"n":20},{"x":12,"y":-2.8798,"n":20},{"x":13,"y":-2.8798,"n":20},{"x":14,"y":-2.8798,"n":7},{"x":15,"y":-2.8798,"n":7},{"x":16,"y":-2.8798,"n":7},{"x":17,"y":-2.8798,"n":7},{"x":18,"y":-2.8798,"n":7},{"x":19,"y":-2.8798,"n":7},{"x":20,"y":-2.8798,"n":7},{"x":21,"y":-2.8798,"n":7},{"x":22,"y":-2.8798,"n":7},{"x":23,"y":-2.8798,"n":7},{"x":24,"y":-2.8798,"n":7},{"x":25,"y":-2.8798,"n":7},{"x":26,"y":-2.8798,"n":7},{"x":27,"y":-2.8798,"n":7},{"x":28,"y":-2.8798,"n":7},{"x":29,"y":-2.8798,"n":7},{"x":30,"y":-2.8798,"n":7},{"x":31,"y":-2.8798,"n":7},{"x":32,"y":-2.8798,"n":7},{"x":33,"y":-2.8798,"n":7},{"x":34,"y":-2.8798,"n":20},{"x":35,"y":-2.8798,"n":7},{"x":36,"y":-2.8798,"n":20},{"x":37,"y":-2.8798,"n":7},{"x":38,"y":-2.8798,"n":20},{"x":39,"y":-2.8798,"n":7},{"x":40,"y":-2.8798,"n":20},{"x":41,"y":-2.8798,"n":20},{"x":42,"y":-2.8798,"n":20},{"x":43,"y":-2.8798,"n":33},{"x":44,"y":-2.8798,"n":33},{"x":45,"y":-2.8798,"n":191}
],
"c1":[{"lo":0,"n":1.79},{"lo":3.575,"n":5.36},{"lo":7.15,"n":8.94},{"lo":10.725,"n":12.51},{"lo":14.3,"n":16.09},{"lo":17.875,"n":19.66},{"lo":21.45,"n":23.24},{"lo":25.025,"n":26.81},{"lo":28.6,"n":30.39},{"lo":32.175,"n":33.96},{"lo":35.75,"n":37.54},{"lo":39.325,"n":41.11},{"lo":42.9,"n":44.69},{"lo":46.475,"n":48.26},{"lo":50.05,"n":51.84},{"lo":53.625,"n":55.41},{"lo":57.2,"n":58.99},{"lo":60.775,"n":62.56},{"lo":64.35,"n":66.14},{"lo":67.925,"n":69.71}],
"c2":[{"lo":0,"n":6.43},{"lo":12.85,"n":19.28},{"lo":25.7,"n":32.13},{"lo":38.55,"n":44.98},{"lo":51.4,"n":57.83},{"lo":64.25,"n":70.68},{"lo":77.1,"n":83.53},{"lo":89.95,"n":96.38},{"lo":102.8,"n":109.23},{"lo":115.65,"n":122.08},{"lo":128.5,"n":134.93},{"lo":141.35,"n":147.78},{"lo":154.2,"n":160.63},{"lo":167.05,"n":173.48},{"lo":179.9,"n":186.33},{"lo":192.75,"n":199.18},{"lo":205.6,"n":212.03},{"lo":218.45,"n":224.88},{"lo":231.3,"n":237.73},{"lo":244.15,"n":250.58}],
"c3":[{"lo":0,"n":6.6},{"lo":13.2,"n":19.8},{"lo":26.4,"n":33},{"lo":39.6,"n":46.2},{"lo":52.8,"n":59.4},{"lo":66,"n":72.6},{"lo":79.2,"n":85.8},{"lo":92.4,"n":99},{"lo":105.6,"n":112.2},{"lo":118.8,"n":125.4},{"lo":132,"n":138.6},{"lo":145.2,"n":151.8},{"lo":158.4,"n":165},{"lo":171.6,"n":178.2},{"lo":184.8,"n":191.4},{"lo":198,"n":204.6},{"lo":211.2,"n":217.8},{"lo":224.4,"n":231},{"lo":237.6,"n":244.2},{"lo":250.8,"n":257.4}]
},
"vconcat":[
{"hconcat":[
 {"width":218,"height":20,"view":{"stroke":"black","strokeWidth":1},"data":{"values":[{"t":"Global Track: Last Hit ϕ vs nHitsFit (<z> < 0)"}]},"mark":{"type":"text","font":"Liberation Sans","fontSize":10,"fontWeight":"bold","color":"black","align":"center","baseline":"middle"},"encoding":{"text":{"field":"t"}}},
 {"width":18,"height":20,"data":{"values":[{}]},"mark":{"type":"text"},"encoding":{"text":{"value":""}}},
 {"width":62,"height":18,"view":{"stroke":"black","strokeWidth":1},"layer":[
  {"data":{"values":[{"t":"Entries","p":0.05}]},"mark":{"type":"text","font":"Liberation Sans","fontSize":7,"fontWeight":"bold","color":"black","align":"left","baseline":"middle"},"encoding":{"x":{"field":"p","type":"quantitative","scale":{"domain":[0,1]},"axis":null},"text":{"field":"t"}}},
  {"data":{"values":[{"t":"10171","p":0.89}]},"mark":{"type":"text","font":"Liberation Sans","fontSize":7,"fontWeight":"bold","color":"black","align":"right","baseline":"middle"},"encoding":{"x":{"field":"p","type":"quantitative","scale":{"domain":[0,1]},"axis":null},"text":{"field":"t"}}}
 ]},
 {"width":26,"height":20,"data":{"values":[{}]},"mark":{"type":"text"},"encoding":{"text":{"value":""}}},
 {"width":218,"height":20,"view":{"stroke":"black","strokeWidth":1},"data":{"values":[{"t":"Global Track: Last Hit ϕ vs nHitsFit (<z> < 0)"}]},"mark":{"type":"text","font":"Liberation Sans","fontSize":10,"fontWeight":"bold","color":"black","align":"center","baseline":"middle"},"encoding":{"text":{"field":"t"}}},
 {"width":18,"height":20,"data":{"values":[{}]},"mark":{"type":"text"},"encoding":{"text":{"value":""}}},
 {"width":62,"height":18,"view":{"stroke":"black","strokeWidth":1},"layer":[
  {"data":{"values":[{"t":"Entries","p":0.05}]},"mark":{"type":"text","font":"Liberation Sans","fontSize":7,"fontWeight":"bold","color":"black","align":"left","baseline":"middle"},"encoding":{"x":{"field":"p","type":"quantitative","scale":{"domain":[0,1]},"axis":null},"text":{"field":"t"}}},
  {"data":{"values":[{"t":"7342","p":0.89}]},"mark":{"type":"text","font":"Liberation Sans","fontSize":7,"fontWeight":"bold","color":"black","align":"right","baseline":"middle"},"encoding":{"x":{"field":"p","type":"quantitative","scale":{"domain":[0,1]},"axis":null},"text":{"field":"t"}}}
 ]},
 {"width":26,"height":20,"data":{"values":[{}]},"mark":{"type":"text"},"encoding":{"text":{"value":""}}},
 {"width":218,"height":20,"view":{"stroke":"black","strokeWidth":1},"data":{"values":[{"t":"Global Track: Last Hit ϕ vs nHitsFit (<z> < 0)"}]},"mark":{"type":"text","font":"Liberation Sans","fontSize":10,"fontWeight":"bold","color":"black","align":"center","baseline":"middle"},"encoding":{"text":{"field":"t"}}},
 {"width":18,"height":20,"data":{"values":[{}]},"mark":{"type":"text"},"encoding":{"text":{"value":""}}},
 {"width":62,"height":18,"view":{"stroke":"black","strokeWidth":1},"layer":[
  {"data":{"values":[{"t":"Entries","p":0.05}]},"mark":{"type":"text","font":"Liberation Sans","fontSize":7,"fontWeight":"bold","color":"black","align":"left","baseline":"middle"},"encoding":{"x":{"field":"p","type":"quantitative","scale":{"domain":[0,1]},"axis":null},"text":{"field":"t"}}},
  {"data":{"values":[{"t":"7327","p":0.89}]},"mark":{"type":"text","font":"Liberation Sans","fontSize":7,"fontWeight":"bold","color":"black","align":"right","baseline":"middle"},"encoding":{"x":{"field":"p","type":"quantitative","scale":{"domain":[0,1]},"axis":null},"text":{"field":"t"}}}
 ]}
],"spacing":2,"bounds":"flush"},
{"hconcat":[
 {"width":25,"height":291,"data":{"values":[{}]},"mark":{"type":"text"},"encoding":{"text":{"value":""}}},
 {"width":250,"height":291,"layer":[
  {"data":{"name":"p1"},"mark":{"type":"rect","clip":true},"encoding":{
   "x":{"field":"x","type":"quantitative","bin":{"binned":true,"step":1},"scale":{"domain":[0,50],"nice":false,"zero":false},"axis":{"orient":"bottom","values":[0,1,2,3,4,5,6,7,8,9,10,11,12,13,14,15,16,17,18,19,20,21,22,23,24,25,26,27,28,29,30,31,32,33,34,35,36,37,38,39,40,41,42,43,44,45,46,47,48,49,50],"labelExpr":"datum.value % 5 === 0 ? '' + datum.value : ''","tickSize":{"condition":{"test":"datum.value % 5 === 0","value":-8},"value":-4},"tickColor":"black","tickWidth":1,"grid":true,"gridColor":"black","gridDash":[1,2],"gridWidth":1,"gridOpacity":{"condition":{"test":"datum.value % 5 === 0 && datum.value > 0 && datum.value < 50","value":1},"value":0},"domain":true,"domainColor":"black","domainWidth":1,"labelFont":"Liberation Sans","labelFontSize":12,"labelFontWeight":"bold","labelColor":"black","labelPadding":13,"labelFlush":false,"labelOverlap":false,"labelBound":false,"title":"nHitsFit","titleAnchor":"end","titleFont":"Liberation Sans","titleFontSize":12,"titleFontWeight":"bold","titleColor":"black","titlePadding":6,"zindex":1}},
   "y":{"field":"y","type":"quantitative","bin":{"binned":true,"step":0.53},"scale":{"domain":[-2.8798,3.4034],"nice":false,"zero":false},"axis":{"orient":"left","values":[-2.8,-2.6,-2.4,-2.2,-2,-1.8,-1.6,-1.4,-1.2,-1,-0.8,-0.6,-0.4,-0.2,0,0.2,0.4,0.6,0.8,1,1.2,1.4,1.6,1.8,2,2.2,2.4,2.6,2.8,3,3.2],"labelExpr":"abs(datum.value - round(datum.value)) < 0.001 ? '' + round(datum.value) : ''","tickSize":{"condition":{"test":"abs(datum.value - round(datum.value)) < 0.001","value":-8},"value":-4},"tickColor":"black","tickWidth":1,"grid":true,"gridColor":"black","gridDash":[1,2],"gridWidth":1,"gridOpacity":{"condition":{"test":"abs(datum.value - round(datum.value)) < 0.001","value":1},"value":0},"domain":true,"domainColor":"black","domainWidth":1,"labelFont":"Liberation Sans","labelFontSize":12,"labelFontWeight":"bold","labelColor":"black","labelPadding":9,"labelOverlap":false,"labelBound":false,"labelFlush":false,"title":"Last Hit ϕ","titleAnchor":"end","titleFont":"Liberation Sans","titleFontSize":12,"titleFontWeight":"bold","titleColor":"black","titlePadding":1,"zindex":1}},
   "color":{"field":"n","type":"quantitative","scale":{"type":"quantize","domain":[0,71.5],"nice":false,"zero":false,"range":["#6300ff","#3300ff","#0014ff","#0044ff","#008bff","#00bbff","#00fffc","#00ffcc","#00ff85","#00ff55","#00ff0e","#22ff00","#69ff00","#99ff00","#e0ff00","#ffee00","#ffa700","#ff7700","#ff3000","#ff0000"]},"legend":null}
  }},
  {"data":{"values":[{"x":0,"y":0}]},"mark":{"type":"point","opacity":0},"encoding":{
   "x":{"field":"x","type":"quantitative","scale":{"domain":[0,50],"nice":false,"zero":false},"axis":{"orient":"top","labels":false,"ticks":false,"grid":false,"domain":true,"domainColor":"black","domainWidth":1,"title":null,"zindex":1}},
   "y":{"field":"y","type":"quantitative","scale":{"domain":[-2.8798,3.4034],"nice":false,"zero":false},"axis":{"orient":"right","labels":false,"ticks":false,"grid":false,"domain":true,"domainColor":"black","domainWidth":1,"title":null,"zindex":1}}
  }}
 ]},
 {"width":14,"height":291,"data":{"name":"c1"},"mark":{"type":"rect"},"encoding":{
  "y":{"field":"lo","type":"quantitative","bin":{"binned":true,"step":3.575},"scale":{"domain":[0,71.5],"nice":false,"zero":false},"axis":{"orient":"right","values":[0,10,20,30,40,50,60,70],"labelExpr":"'' + datum.value","tickSize":-8,"tickColor":"black","tickWidth":1,"domain":false,"grid":false,"labelFont":"Liberation Sans","labelFontSize":11.5,"labelFontWeight":"bold","labelColor":"black","labelPadding":9,"labelFlush":false,"labelOverlap":false,"labelBound":false,"title":null,"zindex":1}},
  "color":{"field":"n","type":"quantitative","scale":{"type":"quantize","domain":[0,71.5],"nice":false,"zero":false,"range":["#6300ff","#3300ff","#0014ff","#0044ff","#008bff","#00bbff","#00fffc","#00ffcc","#00ff85","#00ff55","#00ff0e","#22ff00","#69ff00","#99ff00","#e0ff00","#ffee00","#ffa700","#ff7700","#ff3000","#ff0000"]},"legend":null}
 }},
 {"width":62,"height":291,"data":{"values":[{}]},"mark":{"type":"text"},"encoding":{"text":{"value":""}}},
 {"width":250,"height":291,"layer":[
  {"data":{"name":"p2"},"mark":{"type":"rect","clip":true},"encoding":{
   "x":{"field":"x","type":"quantitative","bin":{"binned":true,"step":1},"scale":{"domain":[0,50],"nice":false,"zero":false},"axis":{"orient":"bottom","values":[0,1,2,3,4,5,6,7,8,9,10,11,12,13,14,15,16,17,18,19,20,21,22,23,24,25,26,27,28,29,30,31,32,33,34,35,36,37,38,39,40,41,42,43,44,45,46,47,48,49,50],"labelExpr":"datum.value % 5 === 0 ? '' + datum.value : ''","tickSize":{"condition":{"test":"datum.value % 5 === 0","value":-8},"value":-4},"tickColor":"black","tickWidth":1,"grid":true,"gridColor":"black","gridDash":[1,2],"gridWidth":1,"gridOpacity":{"condition":{"test":"datum.value % 5 === 0 && datum.value > 0 && datum.value < 50","value":1},"value":0},"domain":true,"domainColor":"black","domainWidth":1,"labelFont":"Liberation Sans","labelFontSize":12,"labelFontWeight":"bold","labelColor":"black","labelPadding":13,"labelFlush":false,"labelOverlap":false,"labelBound":false,"title":"nHitsFit","titleAnchor":"end","titleFont":"Liberation Sans","titleFontSize":12,"titleFontWeight":"bold","titleColor":"black","titlePadding":6,"zindex":1}},
   "y":{"field":"y","type":"quantitative","bin":{"binned":true,"step":0.53},"scale":{"domain":[-2.8798,3.4034],"nice":false,"zero":false},"axis":{"orient":"left","values":[-2.8,-2.6,-2.4,-2.2,-2,-1.8,-1.6,-1.4,-1.2,-1,-0.8,-0.6,-0.4,-0.2,0,0.2,0.4,0.6,0.8,1,1.2,1.4,1.6,1.8,2,2.2,2.4,2.6,2.8,3,3.2],"labelExpr":"abs(datum.value - round(datum.value)) < 0.001 ? '' + round(datum.value) : ''","tickSize":{"condition":{"test":"abs(datum.value - round(datum.value)) < 0.001","value":-8},"value":-4},"tickColor":"black","tickWidth":1,"grid":true,"gridColor":"black","gridDash":[1,2],"gridWidth":1,"gridOpacity":{"condition":{"test":"abs(datum.value - round(datum.value)) < 0.001","value":1},"value":0},"domain":true,"domainColor":"black","domainWidth":1,"labelFont":"Liberation Sans","labelFontSize":12,"labelFontWeight":"bold","labelColor":"black","labelPadding":9,"labelOverlap":false,"labelBound":false,"labelFlush":false,"title":"Last Hit ϕ","titleAnchor":"end","titleFont":"Liberation Sans","titleFontSize":12,"titleFontWeight":"bold","titleColor":"black","titlePadding":1,"zindex":1}},
   "color":{"field":"n","type":"quantitative","scale":{"type":"quantize","domain":[0,257],"nice":false,"zero":false,"range":["#6300ff","#3300ff","#0014ff","#0044ff","#008bff","#00bbff","#00fffc","#00ffcc","#00ff85","#00ff55","#00ff0e","#22ff00","#69ff00","#99ff00","#e0ff00","#ffee00","#ffa700","#ff7700","#ff3000","#ff0000"]},"legend":null}
  }},
  {"data":{"values":[{"x":0,"y":0}]},"mark":{"type":"point","opacity":0},"encoding":{
   "x":{"field":"x","type":"quantitative","scale":{"domain":[0,50],"nice":false,"zero":false},"axis":{"orient":"top","labels":false,"ticks":false,"grid":false,"domain":true,"domainColor":"black","domainWidth":1,"title":null,"zindex":1}},
   "y":{"field":"y","type":"quantitative","scale":{"domain":[-2.8798,3.4034],"nice":false,"zero":false},"axis":{"orient":"right","labels":false,"ticks":false,"grid":false,"domain":true,"domainColor":"black","domainWidth":1,"title":null,"zindex":1}}
  }}
 ]},
 {"width":14,"height":291,"data":{"name":"c2"},"mark":{"type":"rect"},"encoding":{
  "y":{"field":"lo","type":"quantitative","bin":{"binned":true,"step":12.85},"scale":{"domain":[0,257],"nice":false,"zero":false},"axis":{"orient":"right","values":[0,50,100,150,200,250],"labelExpr":"'' + datum.value","tickSize":-8,"tickColor":"black","tickWidth":1,"domain":false,"grid":false,"labelFont":"Liberation Sans","labelFontSize":11.5,"labelFontWeight":"bold","labelColor":"black","labelPadding":9,"labelFlush":false,"labelOverlap":false,"labelBound":false,"title":null,"zindex":1}},
  "color":{"field":"n","type":"quantitative","scale":{"type":"quantize","domain":[0,257],"nice":false,"zero":false,"range":["#6300ff","#3300ff","#0014ff","#0044ff","#008bff","#00bbff","#00fffc","#00ffcc","#00ff85","#00ff55","#00ff0e","#22ff00","#69ff00","#99ff00","#e0ff00","#ffee00","#ffa700","#ff7700","#ff3000","#ff0000"]},"legend":null}
 }},
 {"width":62,"height":291,"data":{"values":[{}]},"mark":{"type":"text"},"encoding":{"text":{"value":""}}},
 {"width":250,"height":291,"layer":[
  {"data":{"name":"p3"},"mark":{"type":"rect","clip":true},"encoding":{
   "x":{"field":"x","type":"quantitative","bin":{"binned":true,"step":1},"scale":{"domain":[0,50],"nice":false,"zero":false},"axis":{"orient":"bottom","values":[0,1,2,3,4,5,6,7,8,9,10,11,12,13,14,15,16,17,18,19,20,21,22,23,24,25,26,27,28,29,30,31,32,33,34,35,36,37,38,39,40,41,42,43,44,45,46,47,48,49,50],"labelExpr":"datum.value % 5 === 0 ? '' + datum.value : ''","tickSize":{"condition":{"test":"datum.value % 5 === 0","value":-8},"value":-4},"tickColor":"black","tickWidth":1,"grid":true,"gridColor":"black","gridDash":[1,2],"gridWidth":1,"gridOpacity":{"condition":{"test":"datum.value % 5 === 0 && datum.value > 0 && datum.value < 50","value":1},"value":0},"domain":true,"domainColor":"black","domainWidth":1,"labelFont":"Liberation Sans","labelFontSize":12,"labelFontWeight":"bold","labelColor":"black","labelPadding":13,"labelFlush":false,"labelOverlap":false,"labelBound":false,"title":"nHitsFit","titleAnchor":"end","titleFont":"Liberation Sans","titleFontSize":12,"titleFontWeight":"bold","titleColor":"black","titlePadding":6,"zindex":1}},
   "y":{"field":"y","type":"quantitative","bin":{"binned":true,"step":0.53},"scale":{"domain":[-2.8798,3.4034],"nice":false,"zero":false},"axis":{"orient":"left","values":[-2.8,-2.6,-2.4,-2.2,-2,-1.8,-1.6,-1.4,-1.2,-1,-0.8,-0.6,-0.4,-0.2,0,0.2,0.4,0.6,0.8,1,1.2,1.4,1.6,1.8,2,2.2,2.4,2.6,2.8,3,3.2],"labelExpr":"abs(datum.value - round(datum.value)) < 0.001 ? '' + round(datum.value) : ''","tickSize":{"condition":{"test":"abs(datum.value - round(datum.value)) < 0.001","value":-8},"value":-4},"tickColor":"black","tickWidth":1,"grid":true,"gridColor":"black","gridDash":[1,2],"gridWidth":1,"gridOpacity":{"condition":{"test":"abs(datum.value - round(datum.value)) < 0.001","value":1},"value":0},"domain":true,"domainColor":"black","domainWidth":1,"labelFont":"Liberation Sans","labelFontSize":12,"labelFontWeight":"bold","labelColor":"black","labelPadding":9,"labelOverlap":false,"labelBound":false,"labelFlush":false,"title":"Last Hit ϕ","titleAnchor":"end","titleFont":"Liberation Sans","titleFontSize":12,"titleFontWeight":"bold","titleColor":"black","titlePadding":1,"zindex":1}},
   "color":{"field":"n","type":"quantitative","scale":{"type":"quantize","domain":[0,264],"nice":false,"zero":false,"range":["#6300ff","#3300ff","#0014ff","#0044ff","#008bff","#00bbff","#00fffc","#00ffcc","#00ff85","#00ff55","#00ff0e","#22ff00","#69ff00","#99ff00","#e0ff00","#ffee00","#ffa700","#ff7700","#ff3000","#ff0000"]},"legend":null}
  }},
  {"data":{"values":[{"x":0,"y":0}]},"mark":{"type":"point","opacity":0},"encoding":{
   "x":{"field":"x","type":"quantitative","scale":{"domain":[0,50],"nice":false,"zero":false},"axis":{"orient":"top","labels":false,"ticks":false,"grid":false,"domain":true,"domainColor":"black","domainWidth":1,"title":null,"zindex":1}},
   "y":{"field":"y","type":"quantitative","scale":{"domain":[-2.8798,3.4034],"nice":false,"zero":false},"axis":{"orient":"right","labels":false,"ticks":false,"grid":false,"domain":true,"domainColor":"black","domainWidth":1,"title":null,"zindex":1}}
  }}
 ]},
 {"width":14,"height":291,"data":{"name":"c3"},"mark":{"type":"rect"},"encoding":{
  "y":{"field":"lo","type":"quantitative","bin":{"binned":true,"step":13.2},"scale":{"domain":[0,264],"nice":false,"zero":false},"axis":{"orient":"right","values":[0,50,100,150,200,250],"labelExpr":"'' + datum.value","tickSize":-8,"tickColor":"black","tickWidth":1,"domain":false,"grid":false,"labelFont":"Liberation Sans","labelFontSize":11.5,"labelFontWeight":"bold","labelColor":"black","labelPadding":9,"labelFlush":false,"labelOverlap":false,"labelBound":false,"title":null,"zindex":1}},
  "color":{"field":"n","type":"quantitative","scale":{"type":"quantize","domain":[0,264],"nice":false,"zero":false,"range":["#6300ff","#3300ff","#0014ff","#0044ff","#008bff","#00bbff","#00fffc","#00ffcc","#00ff85","#00ff55","#00ff0e","#22ff00","#69ff00","#99ff00","#e0ff00","#ffee00","#ffa700","#ff7700","#ff3000","#ff0000"]},"legend":null}
 }}
],"spacing":2,"bounds":"flush","resolve":{"scale":{"color":"independent"}}}
],
"spacing":15
}
